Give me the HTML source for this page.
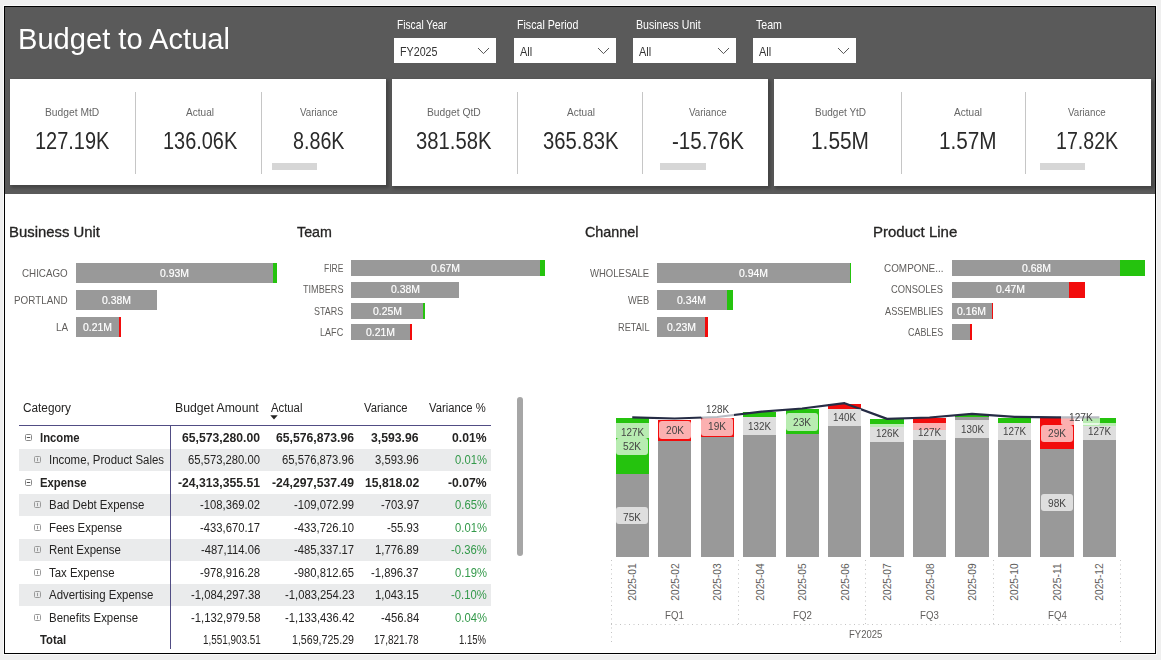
<!DOCTYPE html>
<html><head><meta charset="utf-8"><style>
html,body{margin:0;padding:0;}
body{width:1161px;height:660px;position:relative;overflow:hidden;background:#efefef;font-family:"Liberation Sans",sans-serif;}
body>div,body>span,body>svg{position:absolute;display:block;}
body>span{white-space:nowrap;}
</style></head><body>
<div style="left:3px;top:5px;width:1154px;height:650px;background:#fafafa;"></div>
<div style="left:4px;top:6px;width:1152px;height:648px;background:#000;"></div>
<div style="left:5px;top:7px;width:1150px;height:646px;background:#fff;"></div>
<div style="left:5px;top:7px;width:1150px;height:187px;background:#5a5a5a;"></div>
<span style="left:18.00px;top:23.83px;font-size:29.5px;line-height:29.5px;color:#fff;transform:scaleX(0.9867);transform-origin:0 0;">Budget to Actual</span>
<span style="left:397.00px;top:18.77px;font-size:12.2px;line-height:12.2px;color:#fff;transform:scaleX(0.8378);transform-origin:0 0;">Fiscal Year</span>
<div style="left:394px;top:38px;width:102px;height:25px;background:#fff;"></div>
<span style="left:400.00px;top:46.22px;font-size:12.5px;line-height:12.5px;color:#333;transform:scaleX(0.8565);transform-origin:0 0;">FY2025</span>
<svg style="left:476.5px;top:47px" width="13" height="8" viewBox="0 0 13 8"><path d="M1 1 L6.5 6.6 L12 1" fill="none" stroke="#555" stroke-width="1"/></svg>
<span style="left:517.00px;top:18.77px;font-size:12.2px;line-height:12.2px;color:#fff;transform:scaleX(0.8721);transform-origin:0 0;">Fiscal Period</span>
<div style="left:514px;top:38px;width:102px;height:25px;background:#fff;"></div>
<span style="left:520.00px;top:46.22px;font-size:12.5px;line-height:12.5px;color:#333;transform:scaleX(0.8782);transform-origin:0 0;">All</span>
<svg style="left:596.5px;top:47px" width="13" height="8" viewBox="0 0 13 8"><path d="M1 1 L6.5 6.6 L12 1" fill="none" stroke="#555" stroke-width="1"/></svg>
<span style="left:636.00px;top:18.77px;font-size:12.2px;line-height:12.2px;color:#fff;transform:scaleX(0.8674);transform-origin:0 0;">Business Unit</span>
<div style="left:633px;top:38px;width:103px;height:25px;background:#fff;"></div>
<span style="left:639.00px;top:46.22px;font-size:12.5px;line-height:12.5px;color:#333;transform:scaleX(0.8782);transform-origin:0 0;">All</span>
<svg style="left:716.5px;top:47px" width="13" height="8" viewBox="0 0 13 8"><path d="M1 1 L6.5 6.6 L12 1" fill="none" stroke="#555" stroke-width="1"/></svg>
<span style="left:756.00px;top:18.77px;font-size:12.2px;line-height:12.2px;color:#fff;transform:scaleX(0.8715);transform-origin:0 0;">Team</span>
<div style="left:753px;top:38px;width:103px;height:25px;background:#fff;"></div>
<span style="left:759.00px;top:46.22px;font-size:12.5px;line-height:12.5px;color:#333;transform:scaleX(0.8782);transform-origin:0 0;">All</span>
<svg style="left:836.5px;top:47px" width="13" height="8" viewBox="0 0 13 8"><path d="M1 1 L6.5 6.6 L12 1" fill="none" stroke="#555" stroke-width="1"/></svg>
<div style="left:11px;top:80px;width:378px;height:108px;background:rgba(0,0,0,0.24);filter:blur(1.5px);"></div>
<div style="left:10px;top:79px;width:376px;height:106px;background:#fff;"></div>
<span style="left:45.40px;top:107.01px;font-size:10.5px;line-height:10.5px;color:#666;transform:scaleX(0.9776);transform-origin:0 0;">Budget MtD</span>
<span style="left:35.30px;top:129.73px;font-size:23px;line-height:23px;color:#2a2a2a;transform:scaleX(0.8682);transform-origin:0 0;">127.19K</span>
<span style="left:186.00px;top:107.01px;font-size:10.5px;line-height:10.5px;color:#666;transform:scaleX(0.9594);transform-origin:0 0;">Actual</span>
<span style="left:162.90px;top:129.73px;font-size:23px;line-height:23px;color:#2a2a2a;transform:scaleX(0.8659);transform-origin:0 0;">136.06K</span>
<span style="left:300.15px;top:107.01px;font-size:10.5px;line-height:10.5px;color:#666;transform:scaleX(0.9271);transform-origin:0 0;">Variance</span>
<span style="left:293.25px;top:129.73px;font-size:23px;line-height:23px;color:#2a2a2a;transform:scaleX(0.8568);transform-origin:0 0;">8.86K</span>
<div style="left:135px;top:92px;width:1px;height:82px;background:#c6c6c6;"></div>
<div style="left:261px;top:92px;width:1px;height:82px;background:#c6c6c6;"></div>
<div style="left:272px;top:163px;width:45px;height:7px;background:#d6d6d6;"></div>
<div style="left:393px;top:80px;width:378px;height:109px;background:rgba(0,0,0,0.24);filter:blur(1.5px);"></div>
<div style="left:392px;top:79px;width:376px;height:107px;background:#fff;"></div>
<span style="left:426.50px;top:107.01px;font-size:10.5px;line-height:10.5px;color:#666;transform:scaleX(0.9806);transform-origin:0 0;">Budget QtD</span>
<span style="left:415.70px;top:129.73px;font-size:23px;line-height:23px;color:#2a2a2a;transform:scaleX(0.8799);transform-origin:0 0;">381.58K</span>
<span style="left:566.50px;top:107.01px;font-size:10.5px;line-height:10.5px;color:#666;transform:scaleX(0.9594);transform-origin:0 0;">Actual</span>
<span style="left:542.80px;top:129.73px;font-size:23px;line-height:23px;color:#2a2a2a;transform:scaleX(0.8799);transform-origin:0 0;">365.83K</span>
<span style="left:689.15px;top:107.01px;font-size:10.5px;line-height:10.5px;color:#666;transform:scaleX(0.9271);transform-origin:0 0;">Variance</span>
<span style="left:672.05px;top:129.73px;font-size:23px;line-height:23px;color:#2a2a2a;transform:scaleX(0.8925);transform-origin:0 0;">-15.76K</span>
<div style="left:517px;top:92px;width:1px;height:82px;background:#c6c6c6;"></div>
<div style="left:642px;top:92px;width:1px;height:82px;background:#c6c6c6;"></div>
<div style="left:660px;top:163px;width:46px;height:7px;background:#d6d6d6;"></div>
<div style="left:775px;top:80px;width:379px;height:109px;background:rgba(0,0,0,0.24);filter:blur(1.5px);"></div>
<div style="left:774px;top:79px;width:377px;height:107px;background:#fff;"></div>
<span style="left:814.75px;top:107.01px;font-size:10.5px;line-height:10.5px;color:#666;transform:scaleX(0.9549);transform-origin:0 0;">Budget YtD</span>
<span style="left:811.30px;top:129.73px;font-size:23px;line-height:23px;color:#2a2a2a;transform:scaleX(0.9073);transform-origin:0 0;">1.55M</span>
<span style="left:953.60px;top:107.01px;font-size:10.5px;line-height:10.5px;color:#666;transform:scaleX(0.9594);transform-origin:0 0;">Actual</span>
<span style="left:938.80px;top:129.73px;font-size:23px;line-height:23px;color:#2a2a2a;transform:scaleX(0.9010);transform-origin:0 0;">1.57M</span>
<span style="left:1068.35px;top:107.01px;font-size:10.5px;line-height:10.5px;color:#666;transform:scaleX(0.9271);transform-origin:0 0;">Variance</span>
<span style="left:1056.15px;top:129.73px;font-size:23px;line-height:23px;color:#2a2a2a;transform:scaleX(0.8519);transform-origin:0 0;">17.82K</span>
<div style="left:901px;top:92px;width:1px;height:82px;background:#c6c6c6;"></div>
<div style="left:1025px;top:92px;width:1px;height:82px;background:#c6c6c6;"></div>
<div style="left:1040px;top:163px;width:45px;height:7px;background:#d6d6d6;"></div>
<span style="left:9.00px;top:225.07px;font-size:14.8px;line-height:14.8px;color:#252423;transform:scaleX(1.0057);transform-origin:0 0;-webkit-text-stroke:0.3px #252423;">Business Unit</span>
<span style="left:297.40px;top:225.07px;font-size:14.8px;line-height:14.8px;color:#252423;transform:scaleX(0.9643);transform-origin:0 0;-webkit-text-stroke:0.3px #252423;">Team</span>
<span style="left:584.80px;top:225.07px;font-size:14.8px;line-height:14.8px;color:#252423;transform:scaleX(0.9704);transform-origin:0 0;-webkit-text-stroke:0.3px #252423;">Channel</span>
<span style="left:873.10px;top:225.07px;font-size:14.8px;line-height:14.8px;color:#252423;transform:scaleX(1.0144);transform-origin:0 0;-webkit-text-stroke:0.3px #252423;">Product Line</span>
<span style="left:22.00px;top:267.69px;font-size:11px;line-height:11px;color:#605e5c;transform:scaleX(0.8902);transform-origin:0 0;">CHICAGO</span>
<div style="left:76px;top:263px;width:197px;height:20px;background:#999999;"></div>
<div style="left:273px;top:263px;width:4px;height:20px;background:#25c30e;"></div>
<span style="left:159.80px;top:267.69px;font-size:11px;line-height:11px;color:#fff;transform:scaleX(0.9485);transform-origin:0 0;-webkit-text-stroke:0.2px #fff;">0.93M</span>
<span style="left:14.20px;top:294.69px;font-size:11px;line-height:11px;color:#605e5c;transform:scaleX(0.8961);transform-origin:0 0;">PORTLAND</span>
<div style="left:76px;top:290px;width:81px;height:20px;background:#999999;"></div>
<span style="left:101.90px;top:294.69px;font-size:11px;line-height:11px;color:#fff;transform:scaleX(0.9485);transform-origin:0 0;-webkit-text-stroke:0.2px #fff;">0.38M</span>
<span style="left:55.60px;top:321.69px;font-size:11px;line-height:11px;color:#605e5c;transform:scaleX(0.8993);transform-origin:0 0;">LA</span>
<div style="left:76px;top:317px;width:43px;height:20px;background:#999999;"></div>
<div style="left:119px;top:317px;width:2px;height:20px;background:#f20c0c;"></div>
<span style="left:82.90px;top:321.69px;font-size:11px;line-height:11px;color:#fff;transform:scaleX(0.9485);transform-origin:0 0;-webkit-text-stroke:0.2px #fff;">0.21M</span>
<span style="left:323.70px;top:263.09px;font-size:11px;line-height:11px;color:#605e5c;transform:scaleX(0.7742);transform-origin:0 0;">FIRE</span>
<div style="left:351px;top:260px;width:189px;height:16px;background:#999999;"></div>
<div style="left:540px;top:260px;width:5px;height:16px;background:#25c30e;"></div>
<span style="left:431.35px;top:263.09px;font-size:11px;line-height:11px;color:#fff;transform:scaleX(0.9485);transform-origin:0 0;-webkit-text-stroke:0.2px #fff;">0.67M</span>
<span style="left:302.60px;top:284.49px;font-size:11px;line-height:11px;color:#605e5c;transform:scaleX(0.8283);transform-origin:0 0;">TIMBERS</span>
<div style="left:351px;top:282px;width:108px;height:16px;background:#999999;"></div>
<span style="left:390.50px;top:284.49px;font-size:11px;line-height:11px;color:#fff;transform:scaleX(0.9485);transform-origin:0 0;-webkit-text-stroke:0.2px #fff;">0.38M</span>
<span style="left:313.90px;top:305.69px;font-size:11px;line-height:11px;color:#605e5c;transform:scaleX(0.8143);transform-origin:0 0;">STARS</span>
<div style="left:351px;top:303px;width:72px;height:16px;background:#999999;"></div>
<div style="left:423px;top:303px;width:2px;height:16px;background:#25c30e;"></div>
<span style="left:372.55px;top:305.69px;font-size:11px;line-height:11px;color:#fff;transform:scaleX(0.9485);transform-origin:0 0;-webkit-text-stroke:0.2px #fff;">0.25M</span>
<span style="left:319.90px;top:326.89px;font-size:11px;line-height:11px;color:#605e5c;transform:scaleX(0.8251);transform-origin:0 0;">LAFC</span>
<div style="left:351px;top:324px;width:59px;height:16px;background:#999999;"></div>
<div style="left:410px;top:324px;width:2px;height:16px;background:#f20c0c;"></div>
<span style="left:366.35px;top:326.89px;font-size:11px;line-height:11px;color:#fff;transform:scaleX(0.9485);transform-origin:0 0;-webkit-text-stroke:0.2px #fff;">0.21M</span>
<span style="left:590.00px;top:267.69px;font-size:11px;line-height:11px;color:#605e5c;transform:scaleX(0.8646);transform-origin:0 0;">WHOLESALE</span>
<div style="left:657px;top:263px;width:193px;height:20px;background:#999999;"></div>
<div style="left:850px;top:263px;width:1px;height:20px;background:#25c30e;"></div>
<span style="left:739.10px;top:267.69px;font-size:11px;line-height:11px;color:#fff;transform:scaleX(0.9485);transform-origin:0 0;-webkit-text-stroke:0.2px #fff;">0.94M</span>
<span style="left:628.00px;top:294.69px;font-size:11px;line-height:11px;color:#605e5c;transform:scaleX(0.8461);transform-origin:0 0;">WEB</span>
<div style="left:657px;top:290px;width:70px;height:20px;background:#999999;"></div>
<div style="left:727px;top:290px;width:6px;height:20px;background:#25c30e;"></div>
<span style="left:677.45px;top:294.69px;font-size:11px;line-height:11px;color:#fff;transform:scaleX(0.9485);transform-origin:0 0;-webkit-text-stroke:0.2px #fff;">0.34M</span>
<span style="left:617.70px;top:321.69px;font-size:11px;line-height:11px;color:#605e5c;transform:scaleX(0.8356);transform-origin:0 0;">RETAIL</span>
<div style="left:657px;top:317px;width:48px;height:20px;background:#999999;"></div>
<div style="left:705px;top:317px;width:3px;height:20px;background:#f20c0c;"></div>
<span style="left:666.60px;top:321.69px;font-size:11px;line-height:11px;color:#fff;transform:scaleX(0.9485);transform-origin:0 0;-webkit-text-stroke:0.2px #fff;">0.23M</span>
<span style="left:883.70px;top:263.09px;font-size:11px;line-height:11px;color:#605e5c;transform:scaleX(0.9014);transform-origin:0 0;">COMPONE...</span>
<div style="left:952px;top:260px;width:168px;height:16px;background:#999999;"></div>
<div style="left:1120px;top:260px;width:25px;height:16px;background:#25c30e;"></div>
<span style="left:1021.60px;top:263.09px;font-size:11px;line-height:11px;color:#fff;transform:scaleX(0.9485);transform-origin:0 0;-webkit-text-stroke:0.2px #fff;">0.68M</span>
<span style="left:891.20px;top:284.49px;font-size:11px;line-height:11px;color:#605e5c;transform:scaleX(0.8506);transform-origin:0 0;">CONSOLES</span>
<div style="left:952px;top:282px;width:117px;height:16px;background:#999999;"></div>
<div style="left:1069px;top:282px;width:16px;height:16px;background:#f20c0c;"></div>
<span style="left:995.75px;top:284.49px;font-size:11px;line-height:11px;color:#fff;transform:scaleX(0.9485);transform-origin:0 0;-webkit-text-stroke:0.2px #fff;">0.47M</span>
<span style="left:885.00px;top:305.69px;font-size:11px;line-height:11px;color:#605e5c;transform:scaleX(0.8350);transform-origin:0 0;">ASSEMBLIES</span>
<div style="left:952px;top:303px;width:40px;height:16px;background:#999999;"></div>
<div style="left:992px;top:303px;width:1px;height:16px;background:#f20c0c;"></div>
<span style="left:957.25px;top:305.69px;font-size:11px;line-height:11px;color:#fff;transform:scaleX(0.9485);transform-origin:0 0;-webkit-text-stroke:0.2px #fff;">0.16M</span>
<span style="left:908.00px;top:326.89px;font-size:11px;line-height:11px;color:#605e5c;transform:scaleX(0.8108);transform-origin:0 0;">CABLES</span>
<div style="left:952px;top:324px;width:18px;height:16px;background:#999999;"></div>
<div style="left:970px;top:324px;width:2px;height:16px;background:#f20c0c;"></div>
<span style="left:23.00px;top:401.82px;font-size:12.5px;line-height:12.5px;color:#252423;transform:scaleX(0.9444);transform-origin:0 0;">Category</span>
<span style="left:175.30px;top:401.82px;font-size:12.5px;line-height:12.5px;color:#252423;transform:scaleX(0.9791);transform-origin:0 0;">Budget Amount</span>
<span style="left:270.50px;top:401.82px;font-size:12.5px;line-height:12.5px;color:#252423;transform:scaleX(0.9038);transform-origin:0 0;">Actual</span>
<span style="left:363.80px;top:401.82px;font-size:12.5px;line-height:12.5px;color:#252423;transform:scaleX(0.8986);transform-origin:0 0;">Variance</span>
<span style="left:428.50px;top:401.82px;font-size:12.5px;line-height:12.5px;color:#252423;transform:scaleX(0.9001);transform-origin:0 0;">Variance %</span>
<svg style="left:270px;top:415px" width="8" height="5" viewBox="0 0 8 5"><path d="M0.3 0.2 L7.7 0.2 L4 4.6 Z" fill="#252423"/></svg>
<div style="left:19px;top:449px;width:472px;height:22px;background:#eaebec;"></div>
<div style="left:19px;top:494px;width:472px;height:22px;background:#eaebec;"></div>
<div style="left:19px;top:539px;width:472px;height:22px;background:#eaebec;"></div>
<div style="left:19px;top:584px;width:472px;height:22px;background:#eaebec;"></div>
<svg style="left:25px;top:433.90px" width="7" height="7" viewBox="0 0 7 7"><rect x="0.5" y="0.5" width="6" height="6" rx="1" fill="none" stroke="#8a8a8a" stroke-width="1"/><path d="M1.8 3.5 H5.2" stroke="#555" stroke-width="1"/></svg>
<span style="left:40.20px;top:431.82px;font-size:12.5px;line-height:12.5px;color:#252423;font-weight:bold;transform:scaleX(0.9050);transform-origin:0 0;">Income</span>
<span style="left:182.46px;top:431.82px;font-size:12.5px;line-height:12.5px;color:#252423;font-weight:bold;transform:scaleX(0.9750);transform-origin:0 0;">65,573,280.00</span>
<span style="left:276.26px;top:431.82px;font-size:12.5px;line-height:12.5px;color:#252423;font-weight:bold;transform:scaleX(0.9750);transform-origin:0 0;">65,576,873.96</span>
<span style="left:371.36px;top:431.82px;font-size:12.5px;line-height:12.5px;color:#252423;font-weight:bold;transform:scaleX(0.9750);transform-origin:0 0;">3,593.96</span>
<span style="left:451.84px;top:431.82px;font-size:12.5px;line-height:12.5px;color:#252423;font-weight:bold;transform:scaleX(0.9750);transform-origin:0 0;">0.01%</span>
<svg style="left:34px;top:456.40px" width="7" height="7" viewBox="0 0 7 7"><rect x="0.5" y="0.5" width="6" height="6" rx="1" fill="none" stroke="#9a9a9a" stroke-width="1"/><path d="M3.5 1.8 V5.2" stroke="#999" stroke-width="1"/></svg>
<span style="left:49.20px;top:454.32px;font-size:12.5px;line-height:12.5px;color:#252423;transform:scaleX(0.9150);transform-origin:0 0;">Income, Product Sales</span>
<span style="left:188.45px;top:454.32px;font-size:12.5px;line-height:12.5px;color:#252423;transform:scaleX(0.9000);transform-origin:0 0;">65,573,280.00</span>
<span style="left:282.25px;top:454.32px;font-size:12.5px;line-height:12.5px;color:#252423;transform:scaleX(0.9000);transform-origin:0 0;">65,576,873.96</span>
<span style="left:375.01px;top:454.32px;font-size:12.5px;line-height:12.5px;color:#252423;transform:scaleX(0.9000);transform-origin:0 0;">3,593.96</span>
<span style="left:454.50px;top:454.32px;font-size:12.5px;line-height:12.5px;color:#33994a;transform:scaleX(0.9000);transform-origin:0 0;">0.01%</span>
<svg style="left:25px;top:478.90px" width="7" height="7" viewBox="0 0 7 7"><rect x="0.5" y="0.5" width="6" height="6" rx="1" fill="none" stroke="#8a8a8a" stroke-width="1"/><path d="M1.8 3.5 H5.2" stroke="#555" stroke-width="1"/></svg>
<span style="left:40.20px;top:476.82px;font-size:12.5px;line-height:12.5px;color:#252423;font-weight:bold;transform:scaleX(0.9050);transform-origin:0 0;">Expense</span>
<span style="left:178.40px;top:476.82px;font-size:12.5px;line-height:12.5px;color:#252423;font-weight:bold;transform:scaleX(0.9750);transform-origin:0 0;">-24,313,355.51</span>
<span style="left:272.20px;top:476.82px;font-size:12.5px;line-height:12.5px;color:#252423;font-weight:bold;transform:scaleX(0.9750);transform-origin:0 0;">-24,297,537.49</span>
<span style="left:364.58px;top:476.82px;font-size:12.5px;line-height:12.5px;color:#252423;font-weight:bold;transform:scaleX(0.9750);transform-origin:0 0;">15,818.02</span>
<span style="left:447.78px;top:476.82px;font-size:12.5px;line-height:12.5px;color:#252423;font-weight:bold;transform:scaleX(0.9750);transform-origin:0 0;">-0.07%</span>
<svg style="left:34px;top:501.40px" width="7" height="7" viewBox="0 0 7 7"><rect x="0.5" y="0.5" width="6" height="6" rx="1" fill="none" stroke="#9a9a9a" stroke-width="1"/><path d="M3.5 1.8 V5.2" stroke="#999" stroke-width="1"/></svg>
<span style="left:49.20px;top:499.32px;font-size:12.5px;line-height:12.5px;color:#252423;transform:scaleX(0.9150);transform-origin:0 0;">Bad Debt Expense</span>
<span style="left:200.35px;top:499.32px;font-size:12.5px;line-height:12.5px;color:#252423;transform:scaleX(0.9000);transform-origin:0 0;">-108,369.02</span>
<span style="left:294.15px;top:499.32px;font-size:12.5px;line-height:12.5px;color:#252423;transform:scaleX(0.9000);transform-origin:0 0;">-109,072.99</span>
<span style="left:380.64px;top:499.32px;font-size:12.5px;line-height:12.5px;color:#252423;transform:scaleX(0.9000);transform-origin:0 0;">-703.97</span>
<span style="left:454.50px;top:499.32px;font-size:12.5px;line-height:12.5px;color:#33994a;transform:scaleX(0.9000);transform-origin:0 0;">0.65%</span>
<svg style="left:34px;top:523.90px" width="7" height="7" viewBox="0 0 7 7"><rect x="0.5" y="0.5" width="6" height="6" rx="1" fill="none" stroke="#9a9a9a" stroke-width="1"/><path d="M3.5 1.8 V5.2" stroke="#999" stroke-width="1"/></svg>
<span style="left:49.20px;top:521.82px;font-size:12.5px;line-height:12.5px;color:#252423;transform:scaleX(0.9150);transform-origin:0 0;">Fees Expense</span>
<span style="left:200.35px;top:521.82px;font-size:12.5px;line-height:12.5px;color:#252423;transform:scaleX(0.9000);transform-origin:0 0;">-433,670.17</span>
<span style="left:294.15px;top:521.82px;font-size:12.5px;line-height:12.5px;color:#252423;transform:scaleX(0.9000);transform-origin:0 0;">-433,726.10</span>
<span style="left:386.90px;top:521.82px;font-size:12.5px;line-height:12.5px;color:#252423;transform:scaleX(0.9000);transform-origin:0 0;">-55.93</span>
<span style="left:454.50px;top:521.82px;font-size:12.5px;line-height:12.5px;color:#33994a;transform:scaleX(0.9000);transform-origin:0 0;">0.01%</span>
<svg style="left:34px;top:546.40px" width="7" height="7" viewBox="0 0 7 7"><rect x="0.5" y="0.5" width="6" height="6" rx="1" fill="none" stroke="#9a9a9a" stroke-width="1"/><path d="M3.5 1.8 V5.2" stroke="#999" stroke-width="1"/></svg>
<span style="left:49.20px;top:544.32px;font-size:12.5px;line-height:12.5px;color:#252423;transform:scaleX(0.9150);transform-origin:0 0;">Rent Expense</span>
<span style="left:201.18px;top:544.32px;font-size:12.5px;line-height:12.5px;color:#252423;transform:scaleX(0.9000);transform-origin:0 0;">-487,114.06</span>
<span style="left:294.15px;top:544.32px;font-size:12.5px;line-height:12.5px;color:#252423;transform:scaleX(0.9000);transform-origin:0 0;">-485,337.17</span>
<span style="left:375.01px;top:544.32px;font-size:12.5px;line-height:12.5px;color:#252423;transform:scaleX(0.9000);transform-origin:0 0;">1,776.89</span>
<span style="left:450.75px;top:544.32px;font-size:12.5px;line-height:12.5px;color:#33994a;transform:scaleX(0.9000);transform-origin:0 0;">-0.36%</span>
<svg style="left:34px;top:568.90px" width="7" height="7" viewBox="0 0 7 7"><rect x="0.5" y="0.5" width="6" height="6" rx="1" fill="none" stroke="#9a9a9a" stroke-width="1"/><path d="M3.5 1.8 V5.2" stroke="#999" stroke-width="1"/></svg>
<span style="left:49.20px;top:566.82px;font-size:12.5px;line-height:12.5px;color:#252423;transform:scaleX(0.9150);transform-origin:0 0;">Tax Expense</span>
<span style="left:200.35px;top:566.82px;font-size:12.5px;line-height:12.5px;color:#252423;transform:scaleX(0.9000);transform-origin:0 0;">-978,916.28</span>
<span style="left:294.15px;top:566.82px;font-size:12.5px;line-height:12.5px;color:#252423;transform:scaleX(0.9000);transform-origin:0 0;">-980,812.65</span>
<span style="left:371.26px;top:566.82px;font-size:12.5px;line-height:12.5px;color:#252423;transform:scaleX(0.9000);transform-origin:0 0;">-1,896.37</span>
<span style="left:454.50px;top:566.82px;font-size:12.5px;line-height:12.5px;color:#33994a;transform:scaleX(0.9000);transform-origin:0 0;">0.19%</span>
<svg style="left:34px;top:591.40px" width="7" height="7" viewBox="0 0 7 7"><rect x="0.5" y="0.5" width="6" height="6" rx="1" fill="none" stroke="#9a9a9a" stroke-width="1"/><path d="M3.5 1.8 V5.2" stroke="#999" stroke-width="1"/></svg>
<span style="left:49.20px;top:589.32px;font-size:12.5px;line-height:12.5px;color:#252423;transform:scaleX(0.9150);transform-origin:0 0;">Advertising Expense</span>
<span style="left:190.96px;top:589.32px;font-size:12.5px;line-height:12.5px;color:#252423;transform:scaleX(0.9000);transform-origin:0 0;">-1,084,297.38</span>
<span style="left:284.76px;top:589.32px;font-size:12.5px;line-height:12.5px;color:#252423;transform:scaleX(0.9000);transform-origin:0 0;">-1,083,254.23</span>
<span style="left:375.01px;top:589.32px;font-size:12.5px;line-height:12.5px;color:#252423;transform:scaleX(0.9000);transform-origin:0 0;">1,043.15</span>
<span style="left:450.75px;top:589.32px;font-size:12.5px;line-height:12.5px;color:#33994a;transform:scaleX(0.9000);transform-origin:0 0;">-0.10%</span>
<svg style="left:34px;top:613.90px" width="7" height="7" viewBox="0 0 7 7"><rect x="0.5" y="0.5" width="6" height="6" rx="1" fill="none" stroke="#9a9a9a" stroke-width="1"/><path d="M3.5 1.8 V5.2" stroke="#999" stroke-width="1"/></svg>
<span style="left:49.20px;top:611.82px;font-size:12.5px;line-height:12.5px;color:#252423;transform:scaleX(0.9150);transform-origin:0 0;">Benefits Expense</span>
<span style="left:190.96px;top:611.82px;font-size:12.5px;line-height:12.5px;color:#252423;transform:scaleX(0.9000);transform-origin:0 0;">-1,132,979.58</span>
<span style="left:284.76px;top:611.82px;font-size:12.5px;line-height:12.5px;color:#252423;transform:scaleX(0.9000);transform-origin:0 0;">-1,133,436.42</span>
<span style="left:380.64px;top:611.82px;font-size:12.5px;line-height:12.5px;color:#252423;transform:scaleX(0.9000);transform-origin:0 0;">-456.84</span>
<span style="left:454.50px;top:611.82px;font-size:12.5px;line-height:12.5px;color:#33994a;transform:scaleX(0.9000);transform-origin:0 0;">0.04%</span>
<span style="left:40.20px;top:633.52px;font-size:12.5px;line-height:12.5px;color:#252423;font-weight:bold;transform:scaleX(0.9060);transform-origin:0 0;">Total</span>
<span style="left:202.70px;top:633.52px;font-size:12.5px;line-height:12.5px;color:#252423;transform:scaleX(0.7905);transform-origin:0 0;">1,551,903.51</span>
<span style="left:292.20px;top:633.52px;font-size:12.5px;line-height:12.5px;color:#252423;transform:scaleX(0.8495);transform-origin:0 0;">1,569,725.29</span>
<span style="left:374.20px;top:633.52px;font-size:12.5px;line-height:12.5px;color:#252423;transform:scaleX(0.8020);transform-origin:0 0;">17,821.78</span>
<span style="left:459.40px;top:633.52px;font-size:12.5px;line-height:12.5px;color:#252423;transform:scaleX(0.7618);transform-origin:0 0;">1.15%</span>
<div style="left:19px;top:425px;width:472px;height:1px;background:#514d84;"></div>
<div style="left:170px;top:425px;width:1px;height:224px;background:#514d84;"></div>
<div style="left:517px;top:397px;width:6px;height:159px;background:#a6a6a6;border-radius:3px;"></div>
<div style="left:616px;top:474px;width:33px;height:83px;background:#999999;"></div>
<div style="left:616px;top:418px;width:33px;height:56px;background:#25c30e;"></div>
<div style="left:658px;top:441px;width:33px;height:116px;background:#999999;"></div>
<div style="left:658px;top:420px;width:33px;height:21px;background:#f20c0c;"></div>
<div style="left:701px;top:437px;width:33px;height:120px;background:#999999;"></div>
<div style="left:701px;top:418px;width:33px;height:19px;background:#f20c0c;"></div>
<div style="left:743px;top:417px;width:33px;height:140px;background:#999999;"></div>
<div style="left:743px;top:412px;width:33px;height:5px;background:#25c30e;"></div>
<div style="left:786px;top:434px;width:33px;height:123px;background:#999999;"></div>
<div style="left:786px;top:409px;width:33px;height:25px;background:#25c30e;"></div>
<div style="left:828px;top:409px;width:33px;height:148px;background:#999999;"></div>
<div style="left:828px;top:404px;width:33px;height:5px;background:#f20c0c;"></div>
<div style="left:870px;top:427px;width:34px;height:130px;background:#999999;"></div>
<div style="left:870px;top:419px;width:34px;height:8px;background:#25c30e;"></div>
<div style="left:913px;top:430px;width:33px;height:127px;background:#999999;"></div>
<div style="left:913px;top:418px;width:33px;height:12px;background:#f20c0c;"></div>
<div style="left:955px;top:417px;width:34px;height:140px;background:#999999;"></div>
<div style="left:955px;top:415px;width:34px;height:2px;background:#25c30e;"></div>
<div style="left:998px;top:423px;width:33px;height:134px;background:#999999;"></div>
<div style="left:998px;top:418px;width:33px;height:5px;background:#25c30e;"></div>
<div style="left:1040px;top:449px;width:34px;height:108px;background:#999999;"></div>
<div style="left:1040px;top:417px;width:34px;height:32px;background:#f20c0c;"></div>
<div style="left:1083px;top:426px;width:33px;height:131px;background:#999999;"></div>
<div style="left:1083px;top:418px;width:33px;height:8px;background:#25c30e;"></div>
<svg style="left:0;top:0" width="1161" height="660"><path d="M632.25 417.30 L674.72 418.50 L717.19 417.00 L759.66 411.80 L802.13 408.50 L844.60 403.20 L887.07 418.90 L929.54 417.50 L972.01 413.80 L1014.48 416.80 L1056.95 417.40 L1099.42 417.40" fill="none" stroke="#262c45" stroke-width="2.2" stroke-linejoin="round"/></svg>
<div style="left:616px;top:423px;width:33px;height:15px;background:rgba(255,255,255,0.68);border-radius:0px;"></div>
<span style="left:620.75px;top:427.01px;font-size:10.5px;line-height:10.5px;color:#444;transform:scaleX(0.9379);transform-origin:0 0;">127K</span>
<div style="left:616px;top:438px;width:32px;height:17px;background:rgba(255,255,255,0.68);border-radius:3px;"></div>
<span style="left:623.25px;top:441.21px;font-size:10.5px;line-height:10.5px;color:#444;transform:scaleX(0.9634);transform-origin:0 0;">52K</span>
<div style="left:616px;top:507px;width:32px;height:17px;background:rgba(255,255,255,0.68);border-radius:3px;"></div>
<span style="left:623.25px;top:511.61px;font-size:10.5px;line-height:10.5px;color:#444;transform:scaleX(0.9634);transform-origin:0 0;">75K</span>
<div style="left:659px;top:421px;width:32px;height:18px;background:rgba(255,255,255,0.68);border-radius:3px;"></div>
<span style="left:665.72px;top:425.21px;font-size:10.5px;line-height:10.5px;color:#444;transform:scaleX(0.9634);transform-origin:0 0;">20K</span>
<div style="left:701px;top:418px;width:32px;height:18px;background:rgba(255,255,255,0.68);border-radius:3px;"></div>
<span style="left:708.19px;top:421.11px;font-size:10.5px;line-height:10.5px;color:#444;transform:scaleX(0.9634);transform-origin:0 0;">19K</span>
<div style="left:743px;top:417px;width:33px;height:18px;background:rgba(255,255,255,0.68);border-radius:0px;"></div>
<span style="left:748.16px;top:421.11px;font-size:10.5px;line-height:10.5px;color:#444;transform:scaleX(0.9379);transform-origin:0 0;">132K</span>
<div style="left:786px;top:413px;width:32px;height:18px;background:rgba(255,255,255,0.68);border-radius:3px;"></div>
<span style="left:793.13px;top:416.71px;font-size:10.5px;line-height:10.5px;color:#444;transform:scaleX(0.9634);transform-origin:0 0;">23K</span>
<div style="left:828px;top:409px;width:33px;height:17px;background:rgba(255,255,255,0.68);border-radius:0px;"></div>
<span style="left:833.10px;top:411.91px;font-size:10.5px;line-height:10.5px;color:#444;transform:scaleX(0.9379);transform-origin:0 0;">140K</span>
<div style="left:870px;top:424px;width:34px;height:18px;background:rgba(255,255,255,0.68);border-radius:0px;"></div>
<span style="left:875.57px;top:428.11px;font-size:10.5px;line-height:10.5px;color:#444;transform:scaleX(0.9379);transform-origin:0 0;">126K</span>
<div style="left:913px;top:423px;width:33px;height:17px;background:rgba(255,255,255,0.68);border-radius:0px;"></div>
<span style="left:918.04px;top:426.91px;font-size:10.5px;line-height:10.5px;color:#444;transform:scaleX(0.9379);transform-origin:0 0;">127K</span>
<div style="left:955px;top:420px;width:34px;height:18px;background:rgba(255,255,255,0.68);border-radius:0px;"></div>
<span style="left:960.51px;top:424.11px;font-size:10.5px;line-height:10.5px;color:#444;transform:scaleX(0.9379);transform-origin:0 0;">130K</span>
<div style="left:998px;top:423px;width:33px;height:17px;background:rgba(255,255,255,0.68);border-radius:0px;"></div>
<span style="left:1002.98px;top:425.91px;font-size:10.5px;line-height:10.5px;color:#444;transform:scaleX(0.9379);transform-origin:0 0;">127K</span>
<div style="left:1041px;top:425px;width:32px;height:17px;background:rgba(255,255,255,0.68);border-radius:3px;"></div>
<span style="left:1047.95px;top:428.01px;font-size:10.5px;line-height:10.5px;color:#444;transform:scaleX(0.9634);transform-origin:0 0;">29K</span>
<div style="left:1041px;top:494px;width:32px;height:17px;background:rgba(255,255,255,0.68);border-radius:3px;"></div>
<span style="left:1047.95px;top:498.11px;font-size:10.5px;line-height:10.5px;color:#444;transform:scaleX(0.9634);transform-origin:0 0;">98K</span>
<div style="left:1083px;top:423px;width:33px;height:17px;background:rgba(255,255,255,0.68);border-radius:0px;"></div>
<span style="left:1087.92px;top:426.01px;font-size:10.5px;line-height:10.5px;color:#444;transform:scaleX(0.9379);transform-origin:0 0;">127K</span>
<div style="left:701px;top:401px;width:33px;height:17px;background:rgba(255,255,255,0.68);border-radius:2px;"></div>
<span style="left:706.40px;top:404.01px;font-size:10.5px;line-height:10.5px;color:#444;transform:scaleX(0.9379);transform-origin:0 0;">128K</span>
<div style="left:1061px;top:408px;width:39px;height:17px;background:rgba(255,255,255,0.68);border-radius:2px;"></div>
<span style="left:1068.65px;top:411.91px;font-size:10.5px;line-height:10.5px;color:#444;transform:scaleX(0.9664);transform-origin:0 0;">127K</span>
<span style="left:632.25px;top:582.2px;width:0;height:0;overflow:visible;"><span style="position:absolute;left:0;top:0;font-size:10.5px;line-height:10.5px;color:#605e5c;transform:translate(-50%,-50%) rotate(-90deg) scaleX(0.971);white-space:nowrap;">2025-01</span></span>
<span style="left:674.72px;top:582.2px;width:0;height:0;overflow:visible;"><span style="position:absolute;left:0;top:0;font-size:10.5px;line-height:10.5px;color:#605e5c;transform:translate(-50%,-50%) rotate(-90deg) scaleX(0.971);white-space:nowrap;">2025-02</span></span>
<span style="left:717.19px;top:582.2px;width:0;height:0;overflow:visible;"><span style="position:absolute;left:0;top:0;font-size:10.5px;line-height:10.5px;color:#605e5c;transform:translate(-50%,-50%) rotate(-90deg) scaleX(0.971);white-space:nowrap;">2025-03</span></span>
<span style="left:759.66px;top:582.2px;width:0;height:0;overflow:visible;"><span style="position:absolute;left:0;top:0;font-size:10.5px;line-height:10.5px;color:#605e5c;transform:translate(-50%,-50%) rotate(-90deg) scaleX(0.971);white-space:nowrap;">2025-04</span></span>
<span style="left:802.13px;top:582.2px;width:0;height:0;overflow:visible;"><span style="position:absolute;left:0;top:0;font-size:10.5px;line-height:10.5px;color:#605e5c;transform:translate(-50%,-50%) rotate(-90deg) scaleX(0.971);white-space:nowrap;">2025-05</span></span>
<span style="left:844.60px;top:582.2px;width:0;height:0;overflow:visible;"><span style="position:absolute;left:0;top:0;font-size:10.5px;line-height:10.5px;color:#605e5c;transform:translate(-50%,-50%) rotate(-90deg) scaleX(0.971);white-space:nowrap;">2025-06</span></span>
<span style="left:887.07px;top:582.2px;width:0;height:0;overflow:visible;"><span style="position:absolute;left:0;top:0;font-size:10.5px;line-height:10.5px;color:#605e5c;transform:translate(-50%,-50%) rotate(-90deg) scaleX(0.971);white-space:nowrap;">2025-07</span></span>
<span style="left:929.54px;top:582.2px;width:0;height:0;overflow:visible;"><span style="position:absolute;left:0;top:0;font-size:10.5px;line-height:10.5px;color:#605e5c;transform:translate(-50%,-50%) rotate(-90deg) scaleX(0.971);white-space:nowrap;">2025-08</span></span>
<span style="left:972.01px;top:582.2px;width:0;height:0;overflow:visible;"><span style="position:absolute;left:0;top:0;font-size:10.5px;line-height:10.5px;color:#605e5c;transform:translate(-50%,-50%) rotate(-90deg) scaleX(0.971);white-space:nowrap;">2025-09</span></span>
<span style="left:1014.48px;top:582.2px;width:0;height:0;overflow:visible;"><span style="position:absolute;left:0;top:0;font-size:10.5px;line-height:10.5px;color:#605e5c;transform:translate(-50%,-50%) rotate(-90deg) scaleX(0.971);white-space:nowrap;">2025-10</span></span>
<span style="left:1056.95px;top:582.2px;width:0;height:0;overflow:visible;"><span style="position:absolute;left:0;top:0;font-size:10.5px;line-height:10.5px;color:#605e5c;transform:translate(-50%,-50%) rotate(-90deg) scaleX(0.991);white-space:nowrap;">2025-11</span></span>
<span style="left:1099.42px;top:582.2px;width:0;height:0;overflow:visible;"><span style="position:absolute;left:0;top:0;font-size:10.5px;line-height:10.5px;color:#605e5c;transform:translate(-50%,-50%) rotate(-90deg) scaleX(0.971);white-space:nowrap;">2025-12</span></span>
<span style="left:665.33px;top:610.11px;font-size:10.5px;line-height:10.5px;color:#605e5c;transform:scaleX(0.9200);transform-origin:0 0;">FQ1</span>
<span style="left:792.74px;top:610.11px;font-size:10.5px;line-height:10.5px;color:#605e5c;transform:scaleX(0.9200);transform-origin:0 0;">FQ2</span>
<span style="left:920.15px;top:610.11px;font-size:10.5px;line-height:10.5px;color:#605e5c;transform:scaleX(0.9200);transform-origin:0 0;">FQ3</span>
<span style="left:1047.56px;top:610.11px;font-size:10.5px;line-height:10.5px;color:#605e5c;transform:scaleX(0.9200);transform-origin:0 0;">FQ4</span>
<span style="left:849.35px;top:629.11px;font-size:10.5px;line-height:10.5px;color:#605e5c;transform:scaleX(0.9055);transform-origin:0 0;">FY2025</span>
<svg style="left:0;top:0" width="1161" height="660"><g stroke="#c4c4c4" stroke-width="1" stroke-dasharray="1 3.5" fill="none"><path d="M611.5 560 V644"/><path d="M738.5 560 V624"/><path d="M865.5 560 V624"/><path d="M993.5 560 V624"/><path d="M1120.5 560 V644"/><path d="M611 624.5 H1121"/></g></svg>
</body></html>
